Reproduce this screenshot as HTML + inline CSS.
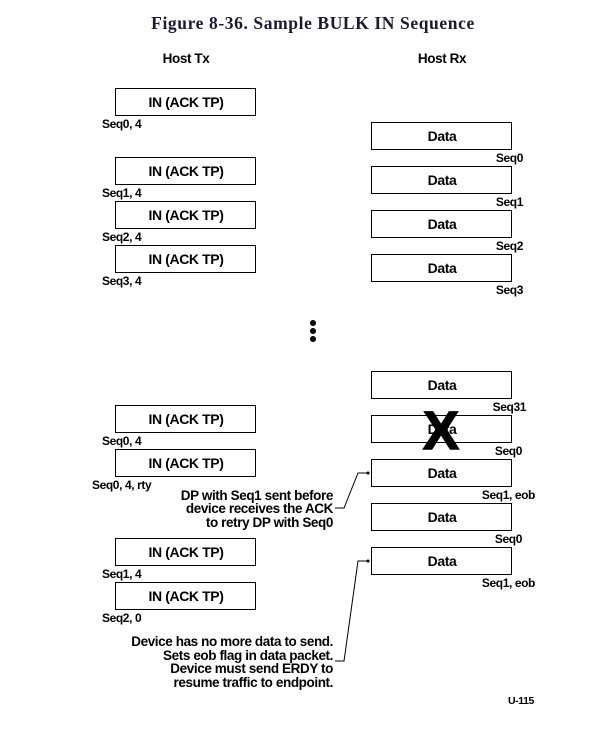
<!DOCTYPE html>
<html><head><style>
html,body{margin:0;padding:0;background:#fff;}
svg{display:block;}
.s{font-family:"Liberation Sans",Arial,sans-serif;font-weight:bold;fill:#000;letter-spacing:-0.4px;}
</style></head><body>
<svg width="611" height="752" viewBox="0 0 611 752">
<text x="313" y="29" text-anchor="middle" font-family="'Liberation Serif',serif" font-weight="bold" font-size="17.5" fill="#1a1a30" letter-spacing="0.6">Figure 8-36.  Sample BULK IN Sequence</text>
<text class="s" x="186" y="63" text-anchor="middle" font-size="13.5">Host Tx</text>
<text class="s" x="442" y="63" text-anchor="middle" font-size="13.5">Host Rx</text>
<g fill="#fff" stroke="#000" stroke-width="1">
<rect x="115.5" y="88.5" width="140" height="27"/>
<rect x="115.5" y="157.5" width="140" height="27"/>
<rect x="115.5" y="201.5" width="140" height="27"/>
<rect x="115.5" y="245.5" width="140" height="27"/>
<rect x="115.5" y="405.5" width="140" height="27"/>
<rect x="115.5" y="449.5" width="140" height="27"/>
<rect x="115.5" y="538.5" width="140" height="27"/>
<rect x="115.5" y="582.5" width="140" height="27"/>
<rect x="371.5" y="122.5" width="140" height="27"/>
<rect x="371.5" y="166.5" width="140" height="27"/>
<rect x="371.5" y="210.5" width="140" height="27"/>
<rect x="371.5" y="254.5" width="140" height="27"/>
<rect x="371.5" y="371.5" width="140" height="27"/>
<rect x="371.5" y="415.5" width="140" height="27"/>
<rect x="371.5" y="459.5" width="140" height="27"/>
<rect x="371.5" y="503.5" width="140" height="27"/>
<rect x="371.5" y="547.5" width="140" height="27"/>
</g>
<g class="s" font-size="14" text-anchor="middle">
<text x="186" y="107">IN (ACK TP)</text>
<text x="186" y="176">IN (ACK TP)</text>
<text x="186" y="220">IN (ACK TP)</text>
<text x="186" y="264">IN (ACK TP)</text>
<text x="186" y="424">IN (ACK TP)</text>
<text x="186" y="468">IN (ACK TP)</text>
<text x="186" y="557">IN (ACK TP)</text>
<text x="186" y="601">IN (ACK TP)</text>
<text x="442" y="141">Data</text>
<text x="442" y="185">Data</text>
<text x="442" y="229">Data</text>
<text x="442" y="273">Data</text>
<text x="442" y="390">Data</text>
<text x="442" y="434">Data</text>
<text x="442" y="478">Data</text>
<text x="442" y="522">Data</text>
<text x="442" y="566">Data</text>
</g>
<g class="s" font-size="12">
<text x="102" y="128">Seq0, 4</text>
<text x="102" y="197">Seq1, 4</text>
<text x="102" y="241">Seq2, 4</text>
<text x="102" y="285">Seq3, 4</text>
<text x="102" y="445">Seq0, 4</text>
<text x="92" y="489">Seq0, 4, rty</text>
<text x="102" y="578">Seq1, 4</text>
<text x="102" y="622">Seq2, 0</text>
</g>
<g class="s" font-size="12" text-anchor="end">
<text x="523" y="162">Seq0</text>
<text x="523" y="206">Seq1</text>
<text x="523" y="250">Seq2</text>
<text x="523" y="294">Seq3</text>
<text x="526" y="411">Seq31</text>
<text x="522" y="455">Seq0</text>
<text x="535" y="499">Seq1, eob</text>
<text x="522" y="543">Seq0</text>
<text x="535" y="587">Seq1, eob</text>
<text x="534" y="704" font-size="10.5">U-115</text>
</g>
<text x="441" y="449" text-anchor="middle" font-family="'Liberation Sans',sans-serif" font-weight="bold" font-size="54" fill="#000" stroke="#000" stroke-width="1.5">X</text>
<g class="s" font-size="13.5" text-anchor="end" letter-spacing="-0.6">
<text x="333" y="500">DP with Seq1 sent before</text>
<text x="333" y="513">device receives the ACK</text>
<text x="333" y="527">to retry DP with Seq0</text>
<text x="333" y="646">Device has no more data to send.</text>
<text x="333" y="660">Sets eob flag in data packet.</text>
<text x="333" y="673">Device must send ERDY to</text>
<text x="333" y="687">resume traffic to endpoint.</text>
</g>
<g fill="none" stroke="#000" stroke-width="1">
<polyline points="335,508 344,508 358,473 368,473"/>
<polyline points="335,661 344,661 358,561 368,561"/>
</g>
<g fill="#000">
<circle cx="368" cy="473" r="1.5"/>
<circle cx="368" cy="561" r="1.5"/>
<circle cx="313" cy="323" r="3"/>
<circle cx="313" cy="331" r="3"/>
<circle cx="313" cy="339" r="3"/>
</g>
</svg>
</body></html>
